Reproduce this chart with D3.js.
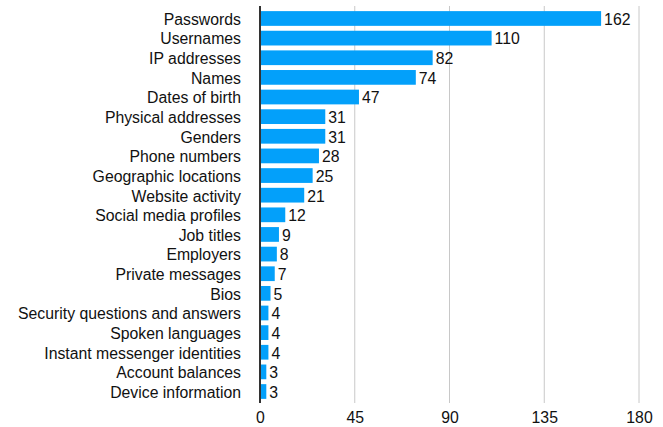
<!DOCTYPE html>
<html><head><meta charset="utf-8">
<script src="https://cdn.jsdelivr.net/npm/d3@7"></script>
<style>body{margin:0;background:#fff}svg{display:block;font-family:"Liberation Sans",Arial,sans-serif}</style>
</head><body><svg id="c" width="663" height="427"></svg>
<script>
const categories = ["Passwords","Usernames","IP addresses","Names","Dates of birth","Physical addresses","Genders","Phone numbers","Geographic locations","Website activity","Social media profiles","Job titles","Employers","Private messages","Bios","Security questions and answers","Spoken languages","Instant messenger identities","Account balances","Device information"];
const values = [162,110,82,74,47,31,31,28,25,21,12,9,8,7,5,4,4,4,3,3];
const ticks = [0,45,90,135,180];

const svg = d3.select("#c");
const x = d3.scaleLinear().domain([0,180]).range([260,639]);
const y = d3.scaleBand().domain(categories).range([7,403]).paddingInner(0.25).paddingOuter(0.21);

svg.append("g").selectAll("line").data(ticks.slice(1)).join("line")
  .attr("x1",d=>x(d)).attr("x2",d=>x(d)).attr("y1",6).attr("y2",403)
  .attr("stroke","#c8c8c8").attr("stroke-width",1);

const xAxis = svg.append("g").attr("transform","translate(0,403)")
  .call(d3.axisBottom(x).tickValues(ticks).tickSize(0).tickPadding(9));
xAxis.select(".domain").remove();
xAxis.selectAll("text").attr("font-size",15.8).attr("fill","#111").attr("font-family","Liberation Sans, Arial, sans-serif");

svg.append("g").selectAll("rect").data(values).join("rect")
  .attr("x",x(0)).attr("y",(d,i)=>y(categories[i]))
  .attr("width",d=>x(d)-x(0)).attr("height",y.bandwidth())
  .attr("fill","#03a0fa");

svg.append("g").selectAll("text").data(values).join("text")
  .attr("x",d=>x(d)+3).attr("y",(d,i)=>y(categories[i])+y.bandwidth()/2)
  .attr("dy","0.4em").attr("font-size",15.8).attr("fill","#111").text(d=>d);

const yAxis = svg.append("g").attr("transform",`translate(${x(0)},0)`)
  .call(d3.axisLeft(y).tickSize(0).tickPadding(19));
yAxis.select(".domain").remove();
yAxis.selectAll("text").attr("font-size",15.8).attr("dy","0.4em").attr("fill","#111").attr("font-family","Liberation Sans, Arial, sans-serif");

svg.append("line").attr("x1",x(0)).attr("x2",x(0)).attr("y1",6).attr("y2",403)
  .attr("stroke","#333").attr("stroke-width",2);
</script></body></html>
